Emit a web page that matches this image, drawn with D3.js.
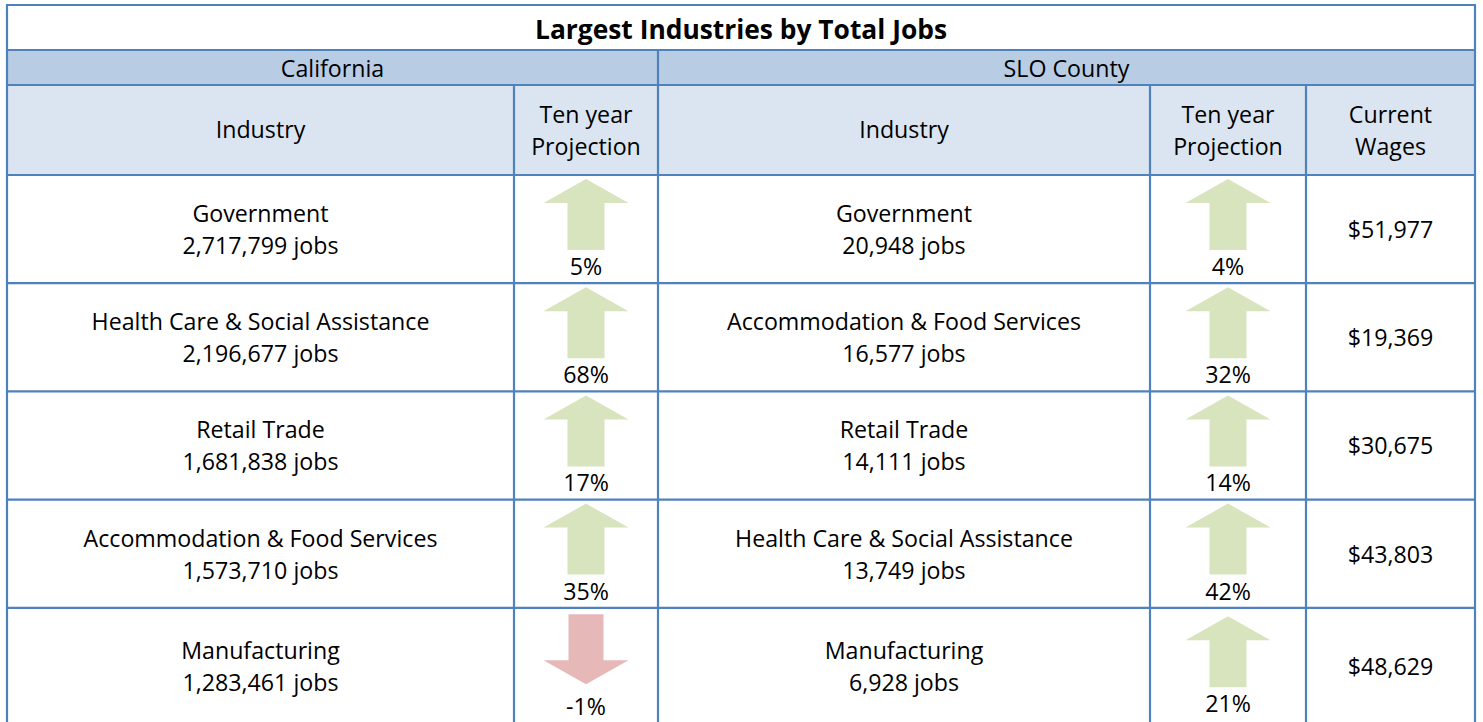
<!DOCTYPE html>
<html><head><meta charset="utf-8">
<script src="https://cdn.jsdelivr.net/npm/d3@7"></script>
<style>html,body{margin:0;padding:0;background:#fff;overflow:hidden}</style>
</head><body><svg id="c" width="1483" height="722"></svg>
<script>
const title = "Largest Industries by Total Jobs";
const regions = ["California", "SLO County"];
const caIndustries = ["Government","Health Care & Social Assistance","Retail Trade","Accommodation & Food Services","Manufacturing"];
const caJobs = ["2,717,799","2,196,677","1,681,838","1,573,710","1,283,461"];
const caProjection = [5, 68, 17, 35, -1];
const sloIndustries = ["Government","Accommodation & Food Services","Retail Trade","Health Care & Social Assistance","Manufacturing"];
const sloJobs = ["20,948","16,577","14,111","13,749","6,928"];
const sloProjection = [4, 32, 14, 42, 21];
const sloWages = ["$51,977","$19,369","$30,675","$43,803","$48,629"];

const svg = d3.select("#c");
const FONT = "'Open Sans', Lato, sans-serif";
const BORDER = "#4F81BD";
const colX = [7, 514, 658, 1150, 1306, 1475];
const yTop = 5, yTitle = 50, yRegion = 85, yHead = 175, yBottom = 716;
const rows = d3.scaleBand().domain(d3.range(caIndustries.length)).range([yHead, yBottom]);
const n = caIndustries.length;
// the last row is slightly taller (it runs past the picture), so its content sits a bit lower
const rowShift = i => (i === n - 1 ? 4.5 : 0);

function measure(s, size, weight) {
  const t = svg.append("text").attr("font-family", FONT).attr("font-size", size)
    .attr("font-weight", weight).text(s);
  const w = t.node().getComputedTextLength();
  t.remove();
  return w;
}
const BODY = 20 * 338 / measure("Health Care & Social Assistance", 20, "normal");
const TITLE = 24 * 412 / measure(title, 24, "bold");

// backgrounds
svg.append("rect").attr("x", colX[0]).attr("y", yTitle).attr("width", colX[5]-colX[0]).attr("height", yRegion-yTitle).attr("fill", "#B8CCE4");
svg.append("rect").attr("x", colX[0]).attr("y", yRegion).attr("width", colX[5]-colX[0]).attr("height", yHead-yRegion).attr("fill", "#DBE5F1");

function txt(x, y, s, opts = {}) {
  svg.append("text").attr("x", x).attr("y", y).attr("text-anchor", "middle")
    .attr("dominant-baseline", "central")
    .attr("font-family", FONT).attr("font-size", opts.size || BODY)
    .attr("font-weight", opts.weight || "normal").attr("fill", "#000").text(s);
}

txt((colX[0]+colX[5])/2, 29, title, {size: TITLE, weight: "bold"});
txt((colX[0]+colX[2])/2, 68, regions[0]);
txt((colX[2]+colX[5])/2, 68, regions[1]);
txt((colX[0]+colX[1])/2, 129, "Industry");
txt((colX[1]+colX[2])/2, 114, "Ten year");
txt((colX[1]+colX[2])/2, 146, "Projection");
txt((colX[2]+colX[3])/2, 129, "Industry");
txt((colX[3]+colX[4])/2, 114, "Ten year");
txt((colX[3]+colX[4])/2, 146, "Projection");
txt((colX[4]+colX[5])/2, 114, "Current");
txt((colX[4]+colX[5])/2, 146, "Wages");

function arrow(cx, top, v) {
  let pts;
  if (v >= 0) {
    pts = [[cx, top+4],[cx+42.5, top+28],[cx+18.5, top+28],[cx+18.5, top+75],[cx-18.5, top+75],[cx-18.5, top+28],[cx-42.5, top+28]];
  } else {
    pts = [[cx-17.5, top+2],[cx+17.5, top+2],[cx+17.5, top+48],[cx+42.5, top+48],[cx, top+72],[cx-42.5, top+48],[cx-17.5, top+48]];
  }
  svg.append("path").attr("d", d3.line()(pts) + "Z")
    .attr("fill", v >= 0 ? "#D7E4BD" : "#E6B9B8");
  txt(cx, top + (v >= 0 ? 91 : 94), v + "%");
}

caIndustries.forEach((d, i) => {
  const top = rows(i) + rowShift(i);
  txt((colX[0]+colX[1])/2, top+38, d);
  txt((colX[0]+colX[1])/2, top+70, caJobs[i] + " jobs");
  arrow((colX[1]+colX[2])/2, top, caProjection[i]);
  txt((colX[2]+colX[3])/2, top+38, sloIndustries[i]);
  txt((colX[2]+colX[3])/2, top+70, sloJobs[i] + " jobs");
  arrow((colX[3]+colX[4])/2, top, sloProjection[i]);
  txt((colX[4]+colX[5])/2, top+54, sloWages[i]);
});

// grid lines
const g = svg.append("g").attr("stroke", BORDER).attr("stroke-width", 2.2).attr("fill", "none");
[yTop, yTitle, yRegion, yHead].concat(d3.range(1, n).map(i => rows(i))).forEach(y => {
  g.append("line").attr("x1", colX[0]-1).attr("x2", colX[5]+1).attr("y1", y).attr("y2", y);
});
g.append("line").attr("x1", colX[0]).attr("x2", colX[0]).attr("y1", yTop).attr("y2", 722);
g.append("line").attr("x1", colX[5]).attr("x2", colX[5]).attr("y1", yTop).attr("y2", 722);
g.append("line").attr("x1", colX[2]).attr("x2", colX[2]).attr("y1", yTitle).attr("y2", 722);
[colX[1], colX[3], colX[4]].forEach(x => g.append("line").attr("x1", x).attr("x2", x).attr("y1", yRegion).attr("y2", 722));
</script></body></html>
